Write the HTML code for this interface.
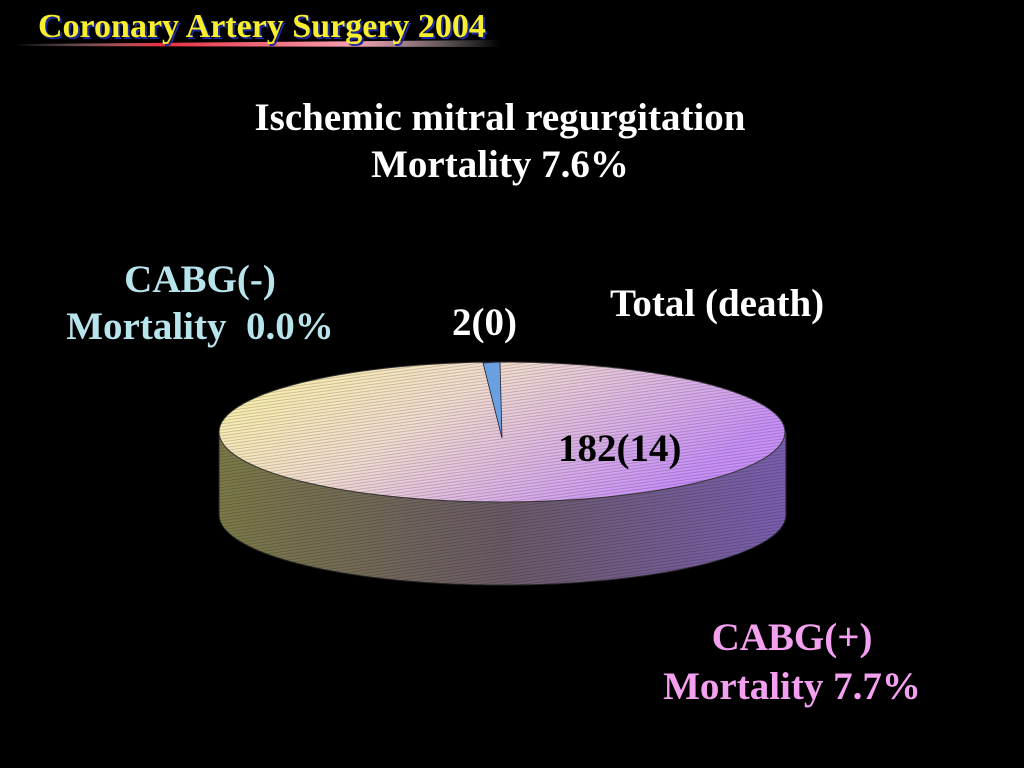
<!DOCTYPE html>
<html><head><style>
html,body{margin:0;padding:0;background:#000;width:1024px;height:768px;overflow:hidden}
body{position:relative;font-family:"Liberation Serif",serif;font-weight:bold}
.t{position:absolute;white-space:nowrap;text-align:center}
</style></head><body>
<svg width="1024" height="768" style="position:absolute;left:0;top:0">
<defs>
<linearGradient id="bar" x1="0" x2="1">
<stop offset="0" stop-color="#fff" stop-opacity="0"/>
<stop offset="0.3" stop-color="#e83040"/>
<stop offset="0.7" stop-color="#f4a0b0"/>
<stop offset="1" stop-color="#fff" stop-opacity="0"/>
</linearGradient>
<linearGradient id="top" x1="0" y1="0" x2="1" y2="0.4">
<stop offset="0" stop-color="#fbf4a0"/>
<stop offset="0.45" stop-color="#f2dcd0"/>
<stop offset="1" stop-color="#c890f8"/>
</linearGradient>
<linearGradient id="side" x1="0" x2="1">
<stop offset="0" stop-color="#7c7a48"/>
<stop offset="0.5" stop-color="#6a5a66"/>
<stop offset="1" stop-color="#7a5eb0"/>
</linearGradient>
<pattern id="hatch" width="6" height="3" patternUnits="userSpaceOnUse" patternTransform="rotate(-8)">
<line x1="0" y1="0.5" x2="6" y2="0.5" stroke="#000" stroke-opacity="0.18" stroke-width="1"/>
</pattern>
</defs>
<path d="M15 44 L500 40 L500 47 L15 46 Z" fill="url(#bar)"/>
<path d="M219 432 L219 515 A283 70 0 0 0 786 515 L786 432 Z" fill="url(#side)" stroke="#222"/>
<path d="M219 432 L219 515 A283 70 0 0 0 786 515 L786 432 Z" fill="url(#hatch)"/>
<ellipse cx="502" cy="432" rx="283" ry="70" fill="url(#top)" stroke="#333"/>
<ellipse cx="502" cy="432" rx="283" ry="70" fill="url(#hatch)"/>
<path d="M502 438 L483 363 L500 362 Z" fill="#6aa0e0" stroke="#223" stroke-width="0.8"/>
</svg>
<div class="t" style="left:38px;top:8px;font-size:34px;color:#f8ee30;text-shadow:2px 2px 0 #1a2a9a">Coronary Artery Surgery 2004</div>
<div class="t" style="left:0;width:1000px;top:94px;font-size:39px;color:#fff;line-height:47px">Ischemic mitral regurgitation<br>Mortality 7.6%</div>
<div class="t" style="left:40px;width:320px;top:256px;font-size:39px;color:#b8e4ec;line-height:47px">CABG(-)<br>Mortality&nbsp; 0.0%</div>
<div class="t" style="left:452px;top:300px;font-size:39px;color:#fff">2(0)</div>
<div class="t" style="left:610px;top:281px;font-size:39px;color:#fff">Total (death)</div>
<div class="t" style="left:558px;top:426px;font-size:39px;color:#000">182(14)</div>
<div class="t" style="left:632px;width:320px;top:613px;font-size:39px;color:#f4a0f0;line-height:49px">CABG(+)<br>Mortality 7.7%</div>
</body></html>
